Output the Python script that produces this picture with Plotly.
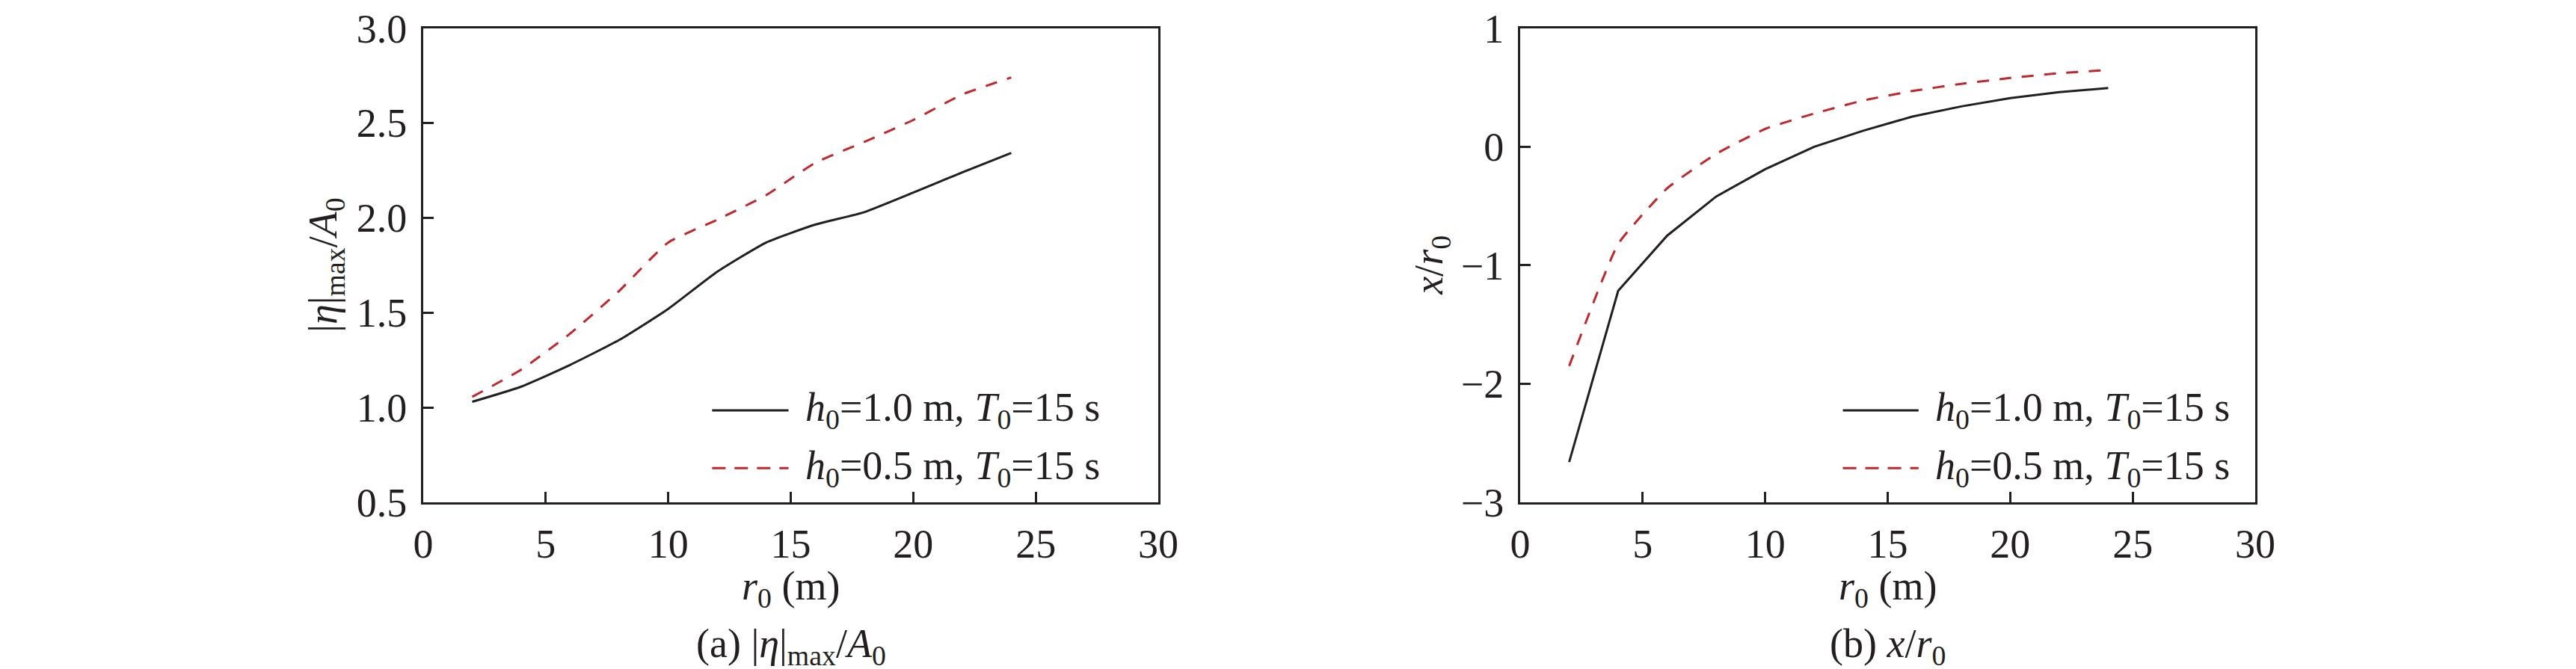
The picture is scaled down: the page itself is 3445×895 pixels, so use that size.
import plotly.graph_objects as go

# ---- data ----
r0 = [2, 4, 6, 8, 10, 12, 14, 16, 18, 20, 22, 24]
eta_h10 = [1.03, 1.11, 1.225, 1.356, 1.52, 1.716, 1.87, 1.964, 2.03, 2.133, 2.24, 2.342]
eta_h05 = [1.056, 1.20, 1.39, 1.615, 1.87, 1.99, 2.12, 2.29, 2.40, 2.516, 2.65, 2.74]
xr_h10 = [-2.66, -1.216, -0.75, -0.42, -0.19, 0.0, 0.135, 0.254, 0.34, 0.41, 0.46, 0.495]
xr_h05 = [-1.85, -0.82, -0.35, -0.06, 0.15, 0.28, 0.39, 0.47, 0.53, 0.58, 0.62, 0.647]

series_names = ["<i>h</i><sub>0</sub>=1.0 m, <i>T</i><sub>0</sub>=15 s",
                "<i>h</i><sub>0</sub>=0.5 m, <i>T</i><sub>0</sub>=15 s"]
x_ticks = [0, 5, 10, 15, 20, 25, 30]
y1_ticks = [0.5, 1.0, 1.5, 2.0, 2.5, 3.0]
y2_ticks = [-3, -2, -1, 0, 1]

# ---- style ----
W, H = 3445, 895
OFF_X = 8   # default body margin of the html page
OFF_Y = 2
FONT = "Liberation Serif, Times New Roman, serif"
FS = 54
INK = "#231f20"
RED = "#c0282d"

def px_x(p):
    return (p - OFF_X) / W

def px_y(p):
    return 1 - (p - OFF_Y) / H

dom1 = [px_x(566), px_x(1549)]
dom2 = [px_x(2033), px_x(3016)]
ydom = [px_y(666), px_y(31.7)]

fig = go.Figure()

fig.add_trace(go.Scatter(x=r0, y=eta_h10, mode="lines", xaxis="x", yaxis="y",
                         line=dict(color=INK, width=3, shape="spline", smoothing=0.5),
                         showlegend=False))
fig.add_trace(go.Scatter(x=r0, y=eta_h05, mode="lines", xaxis="x", yaxis="y",
                         line=dict(color=RED, width=3, dash="16px,14px", shape="spline", smoothing=0.5),
                         showlegend=False))
fig.add_trace(go.Scatter(x=r0, y=xr_h10, mode="lines", xaxis="x2", yaxis="y2",
                         line=dict(color=INK, width=3), showlegend=False))
fig.add_trace(go.Scatter(x=r0, y=xr_h05, mode="lines", xaxis="x2", yaxis="y2",
                         line=dict(color=RED, width=3, dash="16px,14px", shape="spline", smoothing=0.4),
                         showlegend=False))

axis_common = dict(showline=True, linecolor=INK, linewidth=3, mirror=True,
                   ticks="inside", ticklen=14, tickwidth=3, tickcolor=INK,
                   showgrid=False, zeroline=False, automargin=False,
                   ticklabeloverflow="allow",
                   tickfont=dict(family=FONT, size=FS, color=INK))

fig.update_layout(
    width=W, height=H,
    margin=dict(l=0, r=0, t=0, b=0, autoexpand=False),
    paper_bgcolor="white", plot_bgcolor="white",
    showlegend=False,
    xaxis=dict(domain=dom1, range=[0, 30], tickvals=x_ticks, anchor="y",
               ticklabelstandoff=6, **axis_common),
    yaxis=dict(domain=ydom, range=[0.5, 3.0], tickvals=y1_ticks, ticktext=[f"{v:.1f}" for v in y1_ticks],
               anchor="x", ticklabelstandoff=8, **axis_common),
    xaxis2=dict(domain=dom2, range=[0, 30], tickvals=x_ticks, anchor="y2",
                ticklabelstandoff=6, **axis_common),
    yaxis2=dict(domain=ydom, range=[-3, 1], tickvals=y2_ticks, anchor="x2",
                ticklabelstandoff=8, **axis_common),
)

ann = []
shapes = []
tf = dict(family=FONT, size=FS, color=INK)

for i, (xd, yd, dom, ytitle, cap, ytx, lx0, lx1, tx) in enumerate([
    ("x", "y", dom1, "|<i>η</i>|<sub>max</sub>/<i>A</i><sub>0</sub>",
     "(a) |<i>η</i>|<sub>max</sub>/<i>A</i><sub>0</sub>", 436, 0.393, 0.497, 0.518),
    ("x2", "y2", dom2, "<i>x</i>/<i>r</i><sub>0</sub>",
     "(b) <i>x</i>/<i>r</i><sub>0</sub>", 1915, 0.439, 0.542, 0.563),
]):
    cx = (dom[0] + dom[1]) / 2
    ann.append(dict(text="<i>r</i><sub>0</sub> (m)", x=cx, y=px_y(781), xref="paper", yref="paper",
                    xanchor="center", yanchor="middle", showarrow=False, font=tf))
    ann.append(dict(text=cap, x=cx, y=px_y(858), xref="paper", yref="paper",
                    xanchor="center", yanchor="middle", showarrow=False, font=tf))
    ann.append(dict(text=ytitle, x=px_x(ytx), y=(ydom[0] + ydom[1]) / 2, xref="paper", yref="paper",
                    xanchor="center", yanchor="middle", textangle=-90, showarrow=False, font=tf))
    # legend
    for j, (yy, col, dash) in enumerate([(0.194, INK, "solid"), (0.072, RED, "18px,12px")]):
        shapes.append(dict(type="line", xref=f"{xd} domain", yref=f"{yd} domain",
                           x0=lx0, x1=lx1, y0=yy, y1=yy,
                           line=dict(color=col, width=3, dash=dash)))
        ann.append(dict(text=series_names[j], x=tx, y=yy, xref=f"{xd} domain", yref=f"{yd} domain",
                        xanchor="left", yanchor="middle", showarrow=False, font=tf))

fig.update_layout(annotations=ann, shapes=shapes)
fig.write_html("out.html")
